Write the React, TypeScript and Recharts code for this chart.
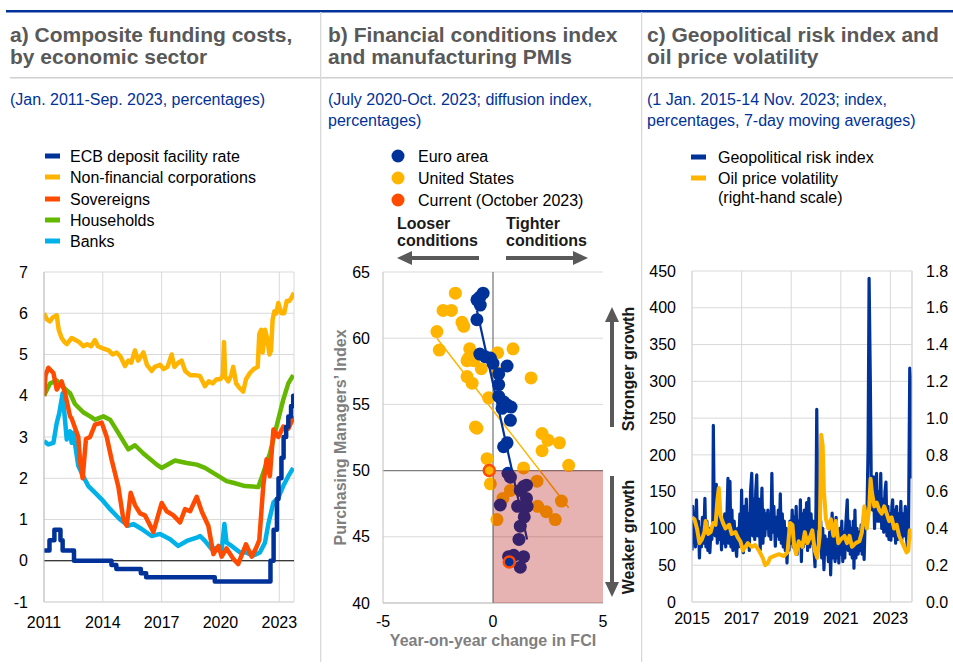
import React from "react";
import {
  CartesianGrid,
  Line,
  LineChart,
  ReferenceArea,
  ReferenceLine,
  Scatter,
  ScatterChart,
  XAxis,
  YAxis,
} from "recharts";

const FONT = '"Liberation Sans", Arial, Helvetica, sans-serif';
const BLUE = "#003299";
const YELLOW = "#FFB400";
const RED = "#FF4B00";
const GREEN = "#65B800";
const CYAN = "#00B1EA";
const GRID = "#d9d9d9";
const AXIS = "#bfbfbf";
const TITLE = "#595959";
const ARROW = "#595959";

type Pt = [number, number];

/* ---------- a) composite funding costs (year, %) ---------- */

const ECB_DFR: Pt[] = [
  [2011.0, 0.25], [2011.28, 0.5], [2011.53, 0.75], [2011.84, 0.5], [2011.95, 0.25], [2012.53, 0],
  [2014.44, -0.1], [2014.69, -0.2], [2015.94, -0.3], [2016.21, -0.4], [2019.71, -0.5], [2022.55, 0],
  [2022.71, 0.75], [2022.88, 1.5], [2022.96, 2.0], [2023.11, 2.5], [2023.22, 3.0], [2023.35, 3.25],
  [2023.46, 3.5], [2023.6, 3.75], [2023.71, 4.0], [2023.75, 4.0],
];

const NFC: Pt[] = [
  [2011.0, 6.0], [2011.15, 5.85], [2011.3, 5.8], [2011.45, 5.9], [2011.65, 5.95], [2011.75, 5.6],
  [2011.9, 5.4], [2012.05, 5.3], [2012.16, 5.25], [2012.41, 5.4], [2012.6, 5.35], [2012.8, 5.3],
  [2013.0, 5.2], [2013.2, 5.25], [2013.4, 5.2], [2013.6, 5.35], [2013.75, 5.2], [2014.0, 5.15],
  [2014.3, 5.1], [2014.5, 5.0], [2014.7, 5.05], [2014.9, 4.95], [2015.13, 4.72], [2015.3, 4.85],
  [2015.45, 4.8], [2015.64, 5.1], [2015.8, 4.85], [2016.07, 5.05], [2016.25, 4.75], [2016.49, 4.6],
  [2016.65, 4.7], [2016.92, 4.75], [2017.1, 4.65], [2017.3, 4.7], [2017.51, 5.0], [2017.65, 4.7],
  [2017.85, 4.8], [2018.02, 4.85], [2018.2, 4.6], [2018.45, 4.5], [2018.7, 4.5], [2018.95, 4.48],
  [2019.21, 4.23], [2019.4, 4.35], [2019.6, 4.3], [2019.8, 4.4], [2020.0, 4.4], [2020.12, 4.5],
  [2020.18, 5.3], [2020.24, 4.45], [2020.4, 4.35], [2020.55, 4.5], [2020.65, 4.7], [2020.8, 4.3],
  [2020.95, 4.2], [2021.16, 4.1], [2021.3, 4.4], [2021.5, 4.55], [2021.7, 4.65], [2021.9, 4.7],
  [2021.98, 5.5], [2022.08, 5.6], [2022.15, 5.05], [2022.27, 5.6], [2022.38, 5.4], [2022.5, 5.0],
  [2022.58, 5.1], [2022.66, 5.85], [2022.75, 6.05], [2022.85, 6.0], [2022.95, 6.25], [2023.1, 6.0],
  [2023.25, 6.0], [2023.38, 6.3], [2023.52, 6.3], [2023.65, 6.4], [2023.75, 6.5],
];

const SOVEREIGNS: Pt[] = [
  [2011.0, 4.0], [2011.08, 4.5], [2011.22, 4.68], [2011.48, 4.55], [2011.65, 4.15], [2011.9, 4.35],
  [2012.07, 4.07], [2012.33, 3.5], [2012.41, 3.45], [2012.75, 3.0], [2012.84, 2.4], [2012.97, 2.0],
  [2013.14, 2.95], [2013.35, 3.0], [2013.6, 3.3], [2013.94, 3.35], [2014.2, 3.0], [2014.45, 2.45],
  [2014.79, 1.8], [2015.05, 1.0], [2015.22, 0.85], [2015.42, 1.65], [2015.64, 1.35], [2015.9, 1.15],
  [2016.15, 1.1], [2016.58, 0.7], [2017.0, 1.4], [2017.26, 1.2], [2017.6, 1.1], [2017.94, 0.93],
  [2018.19, 1.25], [2018.45, 1.2], [2018.79, 1.55], [2019.04, 1.2], [2019.38, 0.85], [2019.64, 0.16],
  [2019.9, 0.36], [2020.06, 0.1], [2020.31, 0.3], [2020.65, 0.05], [2020.9, -0.08], [2021.3, 0.4],
  [2021.59, 0.1], [2021.81, 0.3], [2021.98, 0.5], [2022.18, 1.8], [2022.35, 2.46], [2022.52, 2.05],
  [2022.7, 3.18], [2022.95, 3.0], [2023.2, 3.25], [2023.46, 3.2], [2023.75, 3.5],
];

const HOUSEHOLDS: Pt[] = [
  [2011.0, 4.0], [2011.31, 4.3], [2011.65, 4.37], [2011.99, 4.2], [2012.33, 4.06], [2012.58, 3.8],
  [2013.0, 3.6], [2013.35, 3.5], [2013.6, 3.42], [2014.03, 3.5], [2014.37, 3.42], [2014.79, 3.1],
  [2015.3, 2.7], [2015.64, 2.8], [2016.07, 2.6], [2016.75, 2.33], [2017.0, 2.25], [2017.68, 2.43],
  [2018.28, 2.37], [2018.79, 2.33], [2019.21, 2.25], [2019.9, 2.05], [2020.31, 1.93], [2020.65, 1.89],
  [2021.25, 1.81], [2021.93, 1.79], [2022.18, 2.13], [2022.52, 2.6], [2022.86, 3.26], [2023.2, 3.9],
  [2023.46, 4.3], [2023.71, 4.5],
];

const BANKS: Pt[] = [
  [2011.0, 2.9], [2011.22, 2.82], [2011.48, 2.86], [2011.65, 3.34], [2011.78, 3.58], [2011.95, 4.06],
  [2012.16, 2.94], [2012.33, 3.14], [2012.41, 2.86], [2012.5, 3.1], [2012.75, 2.3], [2013.0, 2.05],
  [2013.26, 1.81], [2013.6, 1.65], [2013.94, 1.49], [2014.37, 1.25], [2014.88, 1.0], [2015.3, 0.85],
  [2015.56, 0.89], [2015.98, 0.77], [2016.49, 0.6], [2016.92, 0.65], [2017.43, 0.52], [2017.85, 0.36],
  [2018.28, 0.48], [2018.79, 0.56], [2018.96, 0.6], [2019.21, 0.48], [2019.55, 0.28], [2019.9, 0.32],
  [2020.06, 0.24], [2020.2, 0.89], [2020.31, 0.44], [2020.57, 0.36], [2021.0, 0.2], [2021.33, 0.2],
  [2021.64, 0.12], [2022.01, 0.2], [2022.27, 0.44], [2022.44, 0.89], [2022.7, 1.41], [2022.95, 1.53],
  [2023.2, 1.81], [2023.46, 2.05], [2023.71, 2.25],
];

const A_X_TICKS = [2011, 2014, 2017, 2020, 2023];
const A_Y_TICKS = [-1, 0, 1, 2, 3, 4, 5, 6, 7];

/* ---------- b) FCI change vs PMI ---------- */

const EA_POINTS: Pt[] = [
  [-0.45, 63.4], [-0.6, 63.1], [-0.73, 62.9], [-0.58, 62.5], [-0.73, 61.4], [-0.6, 58.8], [-0.35, 58.6],
  [-0.12, 58.5], [0.0, 58.1], [0.64, 57.9], [0.26, 57.3], [0.26, 56.5], [0.26, 55.6], [0.48, 55.2],
  [0.64, 54.95], [0.82, 54.8], [0.41, 54.7], [0.79, 53.8], [0.64, 52.1], [0.48, 51.8], [0.68, 49.8],
  [0.79, 49.5], [1.39, 48.8], [1.52, 48.9], [1.24, 48.5], [1.52, 47.9], [1.55, 47.3], [1.12, 47.3],
  [0.33, 47.4], [1.42, 46.5], [1.24, 45.8], [1.18, 44.8], [0.71, 43.5], [0.94, 43.6], [1.39, 43.5],
  [1.24, 42.7],
];

const US_POINTS: Pt[] = [
  [-1.71, 63.4], [-2.27, 62.1], [-1.89, 62.1], [-1.41, 61.2], [-1.33, 60.9], [-2.55, 60.5], [-2.44, 59.1],
  [-1.06, 59.2], [0.91, 59.2], [-1.11, 58.5], [-1.18, 58.3], [-0.88, 58.3], [0.21, 58.9], [-0.53, 57.7],
  [0.18, 57.4], [1.73, 57.0], [-1.18, 57.1], [-0.95, 56.6], [-0.2, 55.5], [-0.8, 53.3], [-0.73, 53.2],
  [2.23, 52.8], [2.5, 52.3], [2.23, 51.5], [3.02, 52.1], [-0.27, 50.9], [3.44, 50.4], [1.39, 50.2],
  [-0.12, 49.0], [2.0, 49.2], [0.79, 48.5], [0.45, 47.9], [2.03, 47.3], [2.42, 46.9], [3.11, 47.7],
  [2.83, 46.3], [0.18, 46.3],
];

// October 2023 observations
const EA_CURRENT: Pt = [0.74, 43.1];
const US_CURRENT: Pt = [-0.17, 50.0];

// fitted lines, end points
const EA_FIT: Pt[] = [[-0.73, 62.1], [1.55, 44.8]];
const US_FIT: Pt[] = [[-2.55, 60.0], [3.44, 47.2]];

const B_X_TICKS = [-5, 0, 5];
const B_Y_TICKS = [40, 45, 50, 55, 60, 65];

/* ---------- c) geopolitical risk and oil volatility ---------- */

const GPR: Pt[] = [
  [2015.0, 70], [2015.03, 130], [2015.07, 85], [2015.1, 120], [2015.14, 75], [2015.18, 139], [2015.22, 80],
  [2015.26, 110], [2015.3, 60], [2015.34, 100], [2015.38, 75], [2015.42, 115], [2015.47, 80], [2015.52, 141],
  [2015.56, 75], [2015.6, 110], [2015.64, 70], [2015.68, 100], [2015.72, 67], [2015.76, 95], [2015.8, 85],
  [2015.84, 110], [2015.86, 240], [2015.9, 110], [2015.94, 90], [2015.98, 160], [2016.02, 80], [2016.06, 130],
  [2016.1, 85], [2016.14, 120], [2016.19, 71], [2016.23, 110], [2016.27, 80], [2016.32, 120], [2016.36, 75],
  [2016.4, 105], [2016.45, 168], [2016.49, 80], [2016.53, 164], [2016.57, 75], [2016.61, 125], [2016.65, 70],
  [2016.7, 110], [2016.75, 80], [2016.8, 62], [2016.84, 100], [2016.88, 75], [2016.93, 120], [2016.97, 80],
  [2017.0, 152], [2017.04, 70], [2017.07, 67], [2017.11, 130], [2017.15, 75], [2017.19, 140], [2017.23, 80],
  [2017.27, 120], [2017.31, 70], [2017.36, 150], [2017.41, 175], [2017.45, 90], [2017.49, 140], [2017.53, 85],
  [2017.57, 150], [2017.61, 173], [2017.65, 90], [2017.7, 140], [2017.75, 71], [2017.79, 120], [2017.82, 155],
  [2017.86, 80], [2017.9, 125], [2017.94, 90], [2017.98, 120], [2018.02, 100], [2018.06, 125], [2018.1, 90],
  [2018.14, 115], [2018.18, 85], [2018.22, 175], [2018.26, 95], [2018.3, 130], [2018.36, 76], [2018.4, 115],
  [2018.44, 90], [2018.48, 125], [2018.52, 85], [2018.56, 147], [2018.6, 80], [2018.64, 120], [2018.68, 75],
  [2018.72, 110], [2018.76, 70], [2018.8, 100], [2018.83, 53], [2018.87, 95], [2018.91, 70], [2018.95, 110],
  [2019.0, 80], [2019.04, 125], [2019.08, 75], [2019.12, 115], [2019.16, 85], [2019.2, 130], [2019.24, 65],
  [2019.28, 110], [2019.33, 80], [2019.37, 139], [2019.41, 55], [2019.45, 120], [2019.49, 75], [2019.53, 125],
  [2019.57, 80], [2019.62, 135], [2019.66, 70], [2019.71, 141], [2019.75, 75], [2019.8, 120], [2019.84, 80],
  [2019.88, 110], [2019.92, 70], [2019.96, 48], [2020.0, 130], [2020.03, 262], [2020.07, 100], [2020.11, 120],
  [2020.15, 70], [2020.19, 110], [2020.23, 60], [2020.27, 100], [2020.32, 44], [2020.36, 90], [2020.4, 65],
  [2020.45, 85], [2020.5, 55], [2020.55, 95], [2020.59, 37], [2020.65, 121], [2020.69, 60], [2020.73, 100],
  [2020.77, 55], [2020.81, 115], [2020.85, 60], [2020.89, 95], [2020.92, 53], [2020.96, 100], [2021.0, 65],
  [2021.04, 110], [2021.08, 55], [2021.12, 95], [2021.16, 60], [2021.2, 105], [2021.26, 139], [2021.3, 70],
  [2021.34, 110], [2021.38, 65], [2021.42, 100], [2021.46, 60], [2021.5, 110], [2021.53, 46], [2021.57, 125],
  [2021.61, 60], [2021.65, 100], [2021.7, 65], [2021.74, 95], [2021.78, 70], [2021.82, 105], [2021.86, 65],
  [2021.9, 95], [2021.94, 58], [2021.98, 110], [2022.02, 100], [2022.06, 130], [2022.1, 210], [2022.14, 440],
  [2022.19, 300], [2022.23, 150], [2022.28, 125], [2022.32, 170], [2022.36, 100], [2022.4, 140], [2022.44, 175],
  [2022.48, 110], [2022.52, 150], [2022.57, 110], [2022.61, 175], [2022.65, 100], [2022.69, 140], [2022.73, 95],
  [2022.78, 150], [2022.82, 163], [2022.86, 90], [2022.9, 130], [2022.94, 85], [2022.98, 120], [2023.02, 84],
  [2023.06, 130], [2023.09, 139], [2023.13, 90], [2023.17, 125], [2023.21, 80], [2023.25, 130], [2023.29, 85],
  [2023.33, 120], [2023.38, 90], [2023.42, 137], [2023.46, 85], [2023.5, 120], [2023.55, 90], [2023.6, 130],
  [2023.65, 85], [2023.69, 75], [2023.73, 100], [2023.78, 318], [2023.82, 300], [2023.85, 170], [2023.87, 225],
];

const OIL_VOL: Pt[] = [
  [2015.0, 0.46], [2015.1, 0.45], [2015.2, 0.4], [2015.3, 0.32], [2015.4, 0.34], [2015.5, 0.38], [2015.55, 0.44],
  [2015.65, 0.37], [2015.75, 0.38], [2015.85, 0.43], [2015.95, 0.42], [2016.02, 0.55], [2016.08, 0.62],
  [2016.15, 0.47], [2016.25, 0.43], [2016.35, 0.4], [2016.5, 0.42], [2016.6, 0.37], [2016.75, 0.38],
  [2016.85, 0.35], [2016.95, 0.33], [2017.05, 0.28], [2017.15, 0.3], [2017.25, 0.32], [2017.4, 0.3],
  [2017.55, 0.31], [2017.7, 0.28], [2017.85, 0.24], [2017.95, 0.2], [2018.05, 0.21], [2018.15, 0.24],
  [2018.3, 0.25], [2018.5, 0.26], [2018.7, 0.25], [2018.85, 0.27], [2018.95, 0.43], [2019.05, 0.42],
  [2019.12, 0.3], [2019.2, 0.26], [2019.3, 0.33], [2019.45, 0.3], [2019.55, 0.38], [2019.65, 0.32],
  [2019.75, 0.35], [2019.85, 0.39], [2019.95, 0.28], [2020.05, 0.24], [2020.15, 0.36], [2020.21, 0.91],
  [2020.27, 0.85], [2020.32, 0.6], [2020.4, 0.45], [2020.5, 0.4], [2020.6, 0.45], [2020.7, 0.36], [2020.8, 0.44],
  [2020.9, 0.32], [2021.0, 0.34], [2021.15, 0.36], [2021.25, 0.32], [2021.35, 0.36], [2021.45, 0.3],
  [2021.6, 0.32], [2021.75, 0.33], [2021.85, 0.38], [2021.95, 0.52], [2022.05, 0.4], [2022.15, 0.52],
  [2022.2, 0.67], [2022.25, 0.6], [2022.35, 0.52], [2022.45, 0.54], [2022.55, 0.5], [2022.65, 0.48],
  [2022.75, 0.52], [2022.85, 0.48], [2022.95, 0.44], [2023.05, 0.46], [2023.15, 0.4], [2023.25, 0.42],
  [2023.35, 0.36], [2023.45, 0.33], [2023.55, 0.3], [2023.65, 0.27], [2023.72, 0.28], [2023.78, 0.39],
  [2023.87, 0.34],
];

const C_X_TICKS = [2015, 2017, 2019, 2021, 2023];
const C_LEFT_TICKS = [0, 50, 100, 150, 200, 250, 300, 350, 400, 450];
const C_RIGHT_TICKS = [0, 0.2, 0.4, 0.6, 0.8, 1.0, 1.2, 1.4, 1.6, 1.8];

const rows = (pts: Pt[]) => pts.map(([t, v]) => ({ t, v }));
const xy = (pts: Pt[]) => pts.map(([x, y]) => ({ x, y }));

const TICK = { fontSize: 16, fill: "#000" };

/* ---------- panel a ---------- */

function FundingCosts() {
  const line = { dataKey: "v", strokeWidth: 4.5, strokeLinejoin: "round" as const, dot: false, isAnimationActive: false };
  return (
    <LineChart width={310} height={385} margin={{ top: 17, right: 16, bottom: 8, left: 8 }}>
      <CartesianGrid stroke={GRID} />
      <XAxis
        type="number"
        dataKey="t"
        domain={[2011, 2023.75]}
        ticks={A_X_TICKS}
        tick={TICK}
        tickLine={false}
        tickMargin={9}
        axisLine={{ stroke: GRID }}
        height={30}
        allowDataOverflow
      />
      <YAxis
        type="number"
        domain={[-1, 7]}
        ticks={A_Y_TICKS}
        tick={TICK}
        tickLine={false}
        tickMargin={10}
        axisLine={{ stroke: AXIS }}
        width={36}
      />
      <ReferenceLine y={0} stroke="#000" strokeWidth={1} />
      <Line data={rows(BANKS)} stroke={CYAN} {...line} />
      <Line data={rows(HOUSEHOLDS)} stroke={GREEN} {...line} />
      <Line data={rows(SOVEREIGNS)} stroke={RED} {...line} />
      <Line data={rows(NFC)} stroke={YELLOW} {...line} />
      <Line data={rows(ECB_DFR)} type="stepAfter" stroke={BLUE} {...line} />
    </LineChart>
  );
}

/* ---------- panel b ---------- */

const dotShape = (color: string) => (p: any) => <circle cx={p.cx} cy={p.cy} r={6.5} fill={color} />;
const noShape = () => <g />;

function FciPmi() {
  return (
    <ScatterChart width={300} height={410} margin={{ top: 17, right: 19, bottom: 17, left: 21 }}>
      <CartesianGrid stroke={GRID} vertical={false} />
      <XAxis
        type="number"
        dataKey="x"
        domain={[-5, 5]}
        ticks={B_X_TICKS}
        tick={TICK}
        tickLine={false}
        tickMargin={7}
        axisLine={{ stroke: AXIS }}
        height={45}
        label={{ value: "Year-on-year change in FCI", position: "insideBottom", offset: 2, fill: "#7f7f7f", fontWeight: 700, fontSize: 16 }}
      />
      <YAxis
        type="number"
        dataKey="y"
        domain={[40, 65]}
        ticks={B_Y_TICKS}
        tick={TICK}
        tickLine={false}
        tickMargin={7}
        axisLine={{ stroke: AXIS }}
        width={40}
        label={{ value: "Purchasing Managers\u2019 Index", angle: -90, position: "insideLeft", offset: -3, fill: "#7f7f7f", fontWeight: 700, fontSize: 16, style: { textAnchor: "middle" } }}
      />
      <ReferenceLine x={0} stroke="#7f7f7f" strokeWidth={1.3} />
      <ReferenceLine y={50} stroke="#7f7f7f" strokeWidth={1.3} />
      <Scatter data={xy(US_POINTS)} shape={dotShape(YELLOW)} isAnimationActive={false} />
      <Scatter data={xy(EA_POINTS)} shape={dotShape(BLUE)} isAnimationActive={false} />
      <Scatter data={xy(US_FIT)} line={{ stroke: YELLOW, strokeWidth: 1.5 }} shape={noShape} isAnimationActive={false} />
      <Scatter data={xy(EA_FIT)} line={{ stroke: BLUE, strokeWidth: 2.2 }} shape={noShape} isAnimationActive={false} />
      <ReferenceArea x1={0} x2={5} y1={40} y2={50} fill="#B00000" fillOpacity={0.3} stroke="none" zIndex={700} />
      <Scatter
        data={[
          { x: US_CURRENT[0], y: US_CURRENT[1], c: YELLOW },
          { x: EA_CURRENT[0], y: EA_CURRENT[1], c: BLUE },
        ]}
        shape={(p: any) => <circle cx={p.cx} cy={p.cy} r={5.5} fill={p.payload.c} stroke={RED} strokeWidth={2.5} />}
        isAnimationActive={false}
        zIndex={800}
      />
    </ScatterChart>
  );
}

/* ---------- panel c ---------- */

function GeoRisk() {
  return (
    <LineChart width={308} height={400} margin={{ top: 16, right: 3, bottom: 23, left: 5 }}>
      <CartesianGrid stroke={GRID} yAxisId="l" />
      <XAxis
        type="number"
        dataKey="t"
        domain={[2015, 2023.87]}
        ticks={C_X_TICKS}
        tick={TICK}
        tickLine={false}
        tickMargin={5}
        axisLine={{ stroke: GRID }}
        height={30}
        allowDataOverflow
      />
      <YAxis
        yAxisId="l"
        type="number"
        domain={[0, 450]}
        ticks={C_LEFT_TICKS}
        tick={TICK}
        tickLine={false}
        tickMargin={10}
        axisLine={{ stroke: GRID }}
        width={42}
      />
      <YAxis
        yAxisId="r"
        orientation="right"
        type="number"
        domain={[0, 1.8]}
        ticks={C_RIGHT_TICKS}
        tickFormatter={(v: number) => v.toFixed(1)}
        tick={TICK}
        tickLine={false}
        tickMargin={8}
        axisLine={{ stroke: GRID }}
        width={38}
      />
      <Line yAxisId="l" data={rows(GPR)} dataKey="v" stroke={BLUE} strokeWidth={3.2} strokeLinejoin="round" dot={false} isAnimationActive={false} />
      <Line yAxisId="r" data={rows(OIL_VOL)} dataKey="v" stroke={YELLOW} strokeWidth={4} strokeLinejoin="round" dot={false} isAnimationActive={false} />
    </LineChart>
  );
}

/* ---------- frame, titles, legends, arrows ---------- */

function Txt({ x, y, children, size = 16, bold = false, fill = "#000", anchor = "start" }: any) {
  return (
    <text x={x} y={y} fontSize={size} fontWeight={bold ? 700 : 400} fill={fill} textAnchor={anchor}>
      {children}
    </text>
  );
}

function Overlay() {
  const legendA = [
    { label: "ECB deposit facility rate", color: BLUE },
    { label: "Non-financial corporations", color: YELLOW },
    { label: "Sovereigns", color: RED },
    { label: "Households", color: GREEN },
    { label: "Banks", color: CYAN },
  ];
  const rowsA = [156, 177, 199, 220, 241];
  const legendB = [
    { label: "Euro area", color: BLUE },
    { label: "United States", color: YELLOW },
    { label: "Current (October 2023)", color: RED },
  ];
  const rowsB = [156, 178, 200];
  return (
    <svg width={953} height={665} style={{ position: "absolute", left: 0, top: 0, pointerEvents: "none", fontFamily: FONT }}>
      <rect x={6} y={10} width={947} height={2.5} fill={BLUE} />
      <rect x={10} y={77} width={943} height={1.5} fill="#d0d0d0" />
      <rect x={320} y={12} width={1.3} height={650} fill={GRID} />
      <rect x={641} y={12} width={1.3} height={650} fill={GRID} />

      <Txt x={10} y={41.5} size={21} bold fill={TITLE}>a) Composite funding costs,</Txt>
      <Txt x={10} y={63.5} size={21} bold fill={TITLE}>by economic sector</Txt>
      <Txt x={328} y={41.5} size={21} bold fill={TITLE}>b) Financial conditions index</Txt>
      <Txt x={328} y={63.5} size={21} bold fill={TITLE}>and manufacturing PMIs</Txt>
      <Txt x={647} y={41.5} size={21} bold fill={TITLE}>c) Geopolitical risk index and</Txt>
      <Txt x={647} y={63.5} size={21} bold fill={TITLE}>oil price volatility</Txt>

      <Txt x={10} y={105} fill={BLUE}>(Jan. 2011-Sep. 2023, percentages)</Txt>
      <Txt x={328} y={105} fill={BLUE}>(July 2020-Oct. 2023; diffusion index,</Txt>
      <Txt x={328} y={126} fill={BLUE}>percentages)</Txt>
      <Txt x={647} y={105} fill={BLUE}>(1 Jan. 2015-14 Nov. 2023; index,</Txt>
      <Txt x={647} y={126} fill={BLUE}>percentages, 7-day moving averages)</Txt>

      {legendA.map((l, i) => (
        <g key={l.label}>
          <rect x={45} y={rowsA[i] - 2.5} width={15} height={5} fill={l.color} />
          <Txt x={70} y={rowsA[i] + 5.7}>{l.label}</Txt>
        </g>
      ))}

      {legendB.map((l, i) => (
        <g key={l.label}>
          <circle cx={398} cy={rowsB[i]} r={6.5} fill={l.color} />
          <Txt x={418} y={rowsB[i] + 5.7}>{l.label}</Txt>
        </g>
      ))}

      <rect x={691} y={154.5} width={15} height={5} fill={BLUE} />
      <Txt x={718} y={162.5}>Geopolitical risk index</Txt>
      <rect x={691} y={175.5} width={15} height={5} fill={YELLOW} />
      <Txt x={718} y={183.5}>Oil price volatility</Txt>
      <Txt x={718} y={203}>(right-hand scale)</Txt>

      <Txt x={397} y={229} bold fill="#1a1a1a">Looser</Txt>
      <Txt x={397} y={246} bold fill="#1a1a1a">conditions</Txt>
      <Txt x={506} y={229} bold fill="#1a1a1a">Tighter</Txt>
      <Txt x={506} y={246} bold fill="#1a1a1a">conditions</Txt>

      <rect x={410} y={256} width={69} height={4} fill={ARROW} />
      <polygon points="397,258 412,251 412,265" fill={ARROW} />
      <rect x={506} y={256} width={69} height={4} fill={ARROW} />
      <polygon points="588,258 573,251 573,265" fill={ARROW} />

      <rect x={610} y={320} width={4} height={107} fill={ARROW} />
      <polygon points="612,307 605,322 619,322" fill={ARROW} />
      <rect x={610} y={476} width={4} height={107} fill={ARROW} />
      <polygon points="612,597 605,582 619,582" fill={ARROW} />

      <text x={628} y={369} fontSize={16} fontWeight={700} fill="#1a1a1a" textAnchor="middle" dominantBaseline="central" transform="rotate(-90 628 369)">
        Stronger growth
      </text>
      <text x={628} y={537} fontSize={16} fontWeight={700} fill="#1a1a1a" textAnchor="middle" dominantBaseline="central" transform="rotate(-90 628 537)">
        Weaker growth
      </text>
    </svg>
  );
}

export default function App() {
  return (
    <div style={{ position: "absolute", left: 0, top: 0, width: 953, height: 665, background: "#fff", fontFamily: FONT, overflow: "hidden" }}>
      <div style={{ position: "absolute", left: 0, top: 255 }}>
        <FundingCosts />
      </div>
      <div style={{ position: "absolute", left: 322, top: 255 }}>
        <FciPmi />
      </div>
      <div style={{ position: "absolute", left: 645, top: 255 }}>
        <GeoRisk />
      </div>
      <Overlay />
    </div>
  );
}
